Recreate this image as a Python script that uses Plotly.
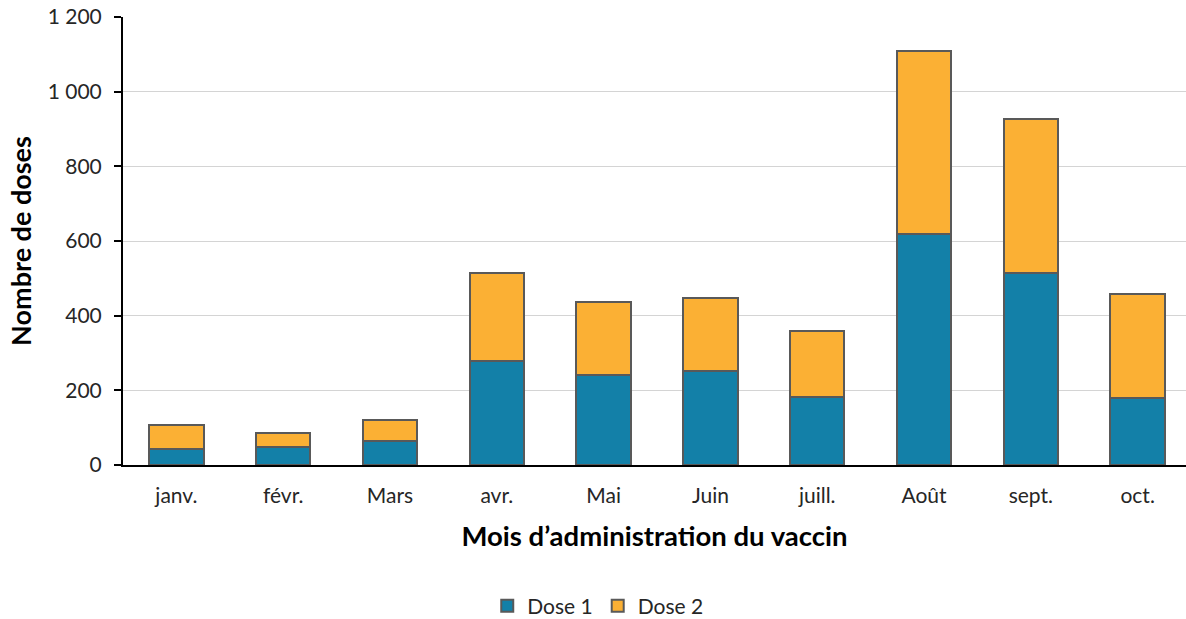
import plotly.graph_objects as go

months = ["janv.", "févr.", "Mars", "avr.", "Mai", "Juin", "juill.", "Août", "sept.", "oct."]
dose1 = [44, 47, 63, 279, 240, 251, 183, 618, 515, 179]
dose2 = [64, 40, 58, 235, 197, 196, 176, 491, 413, 278]
y_ticks = [0, 200, 400, 600, 800, 1000, 1200]
y_tick_labels = ["0", "200", "400", "600", "800", "1 000", "1 200"]

FONT = "Lato, Carlito, Calibri, sans-serif"
edge = dict(color="#595959", width=2)

fig = go.Figure()
fig.add_trace(go.Bar(x=months, y=dose1, name="Dose 1",
                     marker=dict(color="#1380A8", line=edge)))
fig.add_trace(go.Bar(x=months, y=dose2, name="Dose 2",
                     marker=dict(color="#FBB034", line=edge)))

fig.update_layout(
    barmode="stack",
    bargap=0.49,
    width=1186, height=619,
    margin=dict(l=123, r=0, t=17, b=154, autoexpand=False),
    paper_bgcolor="white", plot_bgcolor="white",
    font=dict(family=FONT, size=21, color="#262626"),
    showlegend=True,
    legend=dict(orientation="h", xref="container", yref="container",
                x=0.504, y=0.021, xanchor="center", yanchor="middle",
                font=dict(size=21, color="#262626"), traceorder="normal"),
    xaxis=dict(range=[-0.5, 9.453], showline=True, linecolor="black", linewidth=2,
               ticks="", ticklabelstandoff=11, showgrid=False, automargin=False,
               title=dict(text="<b>Mois d’administration du vaccin</b>",
                          font=dict(size=27.5, color="black"), standoff=21)),
    yaxis=dict(range=[0, 1200], tickvals=y_ticks, ticktext=y_tick_labels,
               showline=True, linecolor="black", linewidth=2,
               ticks="outside", ticklen=7, tickcolor="black", tickwidth=2,
               ticklabelstandoff=8, ticklabeloverflow="allow", automargin=False,
               showgrid=True, gridcolor="#D4D4D4", gridwidth=1, zeroline=False,
               title=dict(text="<b>Nombre de doses</b>",
                          font=dict(size=27, color="black"), standoff=8)),
)

fig.write_html("out.html", config={"displayModeBar": False},
               post_script="document.body.style.margin='0';document.body.style.overflow='hidden';")
